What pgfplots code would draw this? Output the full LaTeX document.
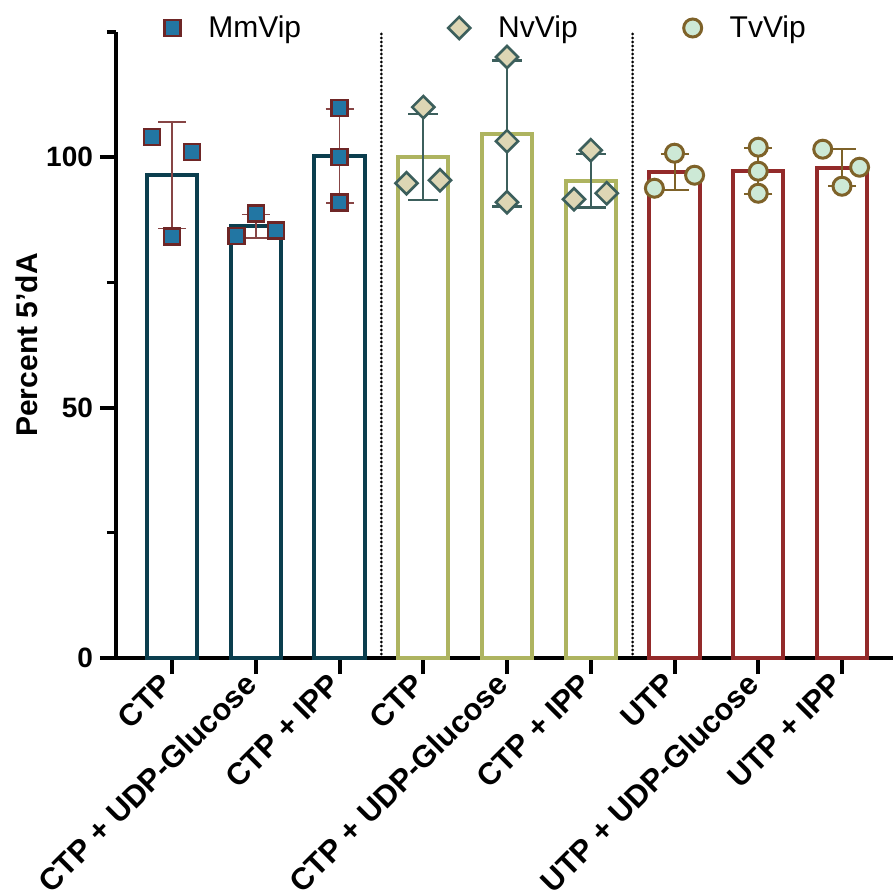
\documentclass[border=0pt]{standalone}
\usepackage{pgfplots}
\usepackage{pgfplotstable}
\pgfplotsset{compat=1.18}
\usepackage{fontspec}
\setmainfont{Liberation Sans}

% bar outlines, marker fills/edges, error-bar colours per enzyme
\definecolor{barMm}{HTML}{0B3E4E}
\definecolor{fillMm}{HTML}{2276A3}
\definecolor{edgeMm}{HTML}{6E2626}
\definecolor{errMm}{HTML}{874545}
\definecolor{barNv}{HTML}{AEB460}
\definecolor{fillNv}{HTML}{DDD6B4}
\definecolor{edgeNv}{HTML}{3C5F5C}
\definecolor{barTv}{HTML}{932A2A}
\definecolor{fillTv}{HTML}{CDE9D6}
\definecolor{edgeTv}{HTML}{7E6229}

% means and standard deviations (x = category position)
\pgfplotstableread{
x m s
0 96.40 10.67
1 86.17 2.35
2 100.27 9.40
}\mmbar
\pgfplotstableread{
x m s
3 100.07 8.61
4 104.73 14.56
5 95.27 5.35
}\nvbar
\pgfplotstableread{
x m s
6 97.00 3.54
7 97.33 4.60
8 97.93 3.70
}\tvbar

% individual replicates (small horizontal offsets within each category)
\pgfplotstableread{
x y
-0.24 104.0
0.24 101.0
0 84.2
0.77 84.3
1 88.8
1.24 85.4
2 109.8
2 100.0
2 91.0
}\mmpts
\pgfplotstableread{
x y
2.8 94.8
3.2 95.4
3 110.0
4 120.0
4 103.2
4 91.0
4.8 91.6
5.19 92.8
5 101.4
}\nvpts
\pgfplotstableread{
x y
5.76 93.8
6.24 96.4
6 100.8
7 102.0
7 97.2
7 92.8
7.77 101.6
8.21 98.0
8 94.2
}\tvpts

\begin{document}
\begin{tikzpicture}
\begin{axis}[
  name=ax,
  scale only axis,
  width=388.5pt, height=313pt,
  xmin=-0.669, xmax=8.609,
  ymin=0, ymax=125,
  clip=false,
  axis x line*=bottom, axis y line*=left,
  axis line style={line width=2pt, black},
  tick align=outside,
  major tick length=8pt,
  minor tick length=4.5pt,
  major tick style={line width=2pt, black},
  minor tick style={line width=1.6pt, black},
  xtick={0,1,2,3,4,5,6,7,8},
  xticklabels={CTP, CTP + UDP-Glucose, CTP + IPP, CTP, CTP + UDP-Glucose, CTP + IPP, UTP, UTP + UDP-Glucose, UTP + IPP},
  ytick={0,50,100},
  minor ytick={25,75,125},
  /pgf/number format/assume math mode=true,
  yticklabel style={font=\bfseries\fontsize{14}{16}\selectfont},
  xticklabel style={rotate=45, anchor=east, font=\bfseries\fontsize{15.4}{17}\selectfont},
  ylabel={Percent 5’dA},
  every axis y label/.style={at={(rel axis cs:-0.1145,0.5)}, rotate=90, anchor=center,
    font=\bfseries\fontsize{15}{17}\selectfont},
  legend columns=3,
  legend image code/.code={\draw[#1] plot coordinates {(0pt,0pt)};},
  legend style={
    draw=none, fill=none,
    at={(rel axis cs:0.054,1.0064)}, anchor=west,
    font=\fontsize{15}{17}\selectfont,
    /tikz/every odd column/.style={column sep=12pt},
    /tikz/column 2/.style={column sep=71.5pt},
    /tikz/column 4/.style={column sep=51pt},
  },
]

% dotted separators between enzyme groups
\addplot[forget plot, black, line width=1.5pt, line cap=round, dash pattern=on 0pt off 2pt] coordinates {(2.5,0) (2.5,125)};
\addplot[forget plot, black, line width=1.5pt, line cap=round, dash pattern=on 0pt off 2pt] coordinates {(5.5,0) (5.5,125)};

% open bars at the mean
\addplot[forget plot, ybar, bar width=0.6, bar shift=0pt, draw=barMm, fill=white, line width=2pt] table[x=x, y=m] {\mmbar};
\addplot[forget plot, ybar, bar width=0.6, bar shift=0pt, draw=barNv, fill=white, line width=2pt] table[x=x, y=m] {\nvbar};
\addplot[forget plot, ybar, bar width=0.6, bar shift=0pt, draw=barTv, fill=white, line width=2pt] table[x=x, y=m] {\tvbar};

% mean +/- SD with horizontal caps
\addplot[forget plot, draw=none, mark=none,
  error bars/.cd, y dir=both, y explicit,
  error bar style={line width=0.75pt, draw=errMm},
  error mark=|, error mark options={draw=errMm, mark size=7pt, line width=0.75pt}]
  table[x=x, y=m, y error=s] {\mmbar};
\addplot[forget plot, draw=none, mark=none,
  error bars/.cd, y dir=both, y explicit,
  error bar style={line width=1.2pt, draw=edgeNv},
  error mark=|, error mark options={draw=edgeNv, mark size=7.5pt, line width=1.2pt}]
  table[x=x, y=m, y error=s] {\nvbar};
\addplot[forget plot, draw=none, mark=none,
  error bars/.cd, y dir=both, y explicit,
  error bar style={line width=1pt, draw=edgeTv},
  error mark=|, error mark options={draw=edgeTv, mark size=7pt, line width=1pt}]
  table[x=x, y=m, y error=s] {\tvbar};

% replicates
\addplot[only marks, mark=square*, mark size=4pt, mark options={fill=fillMm, draw=edgeMm, line width=1.25pt}] table[x=x, y=y] {\mmpts};
\addlegendentry{MmVip}
\addplot[only marks, mark=square*, mark size=3.9pt, mark options={rotate=45, fill=fillNv, draw=edgeNv, line width=1.3pt}] table[x=x, y=y] {\nvpts};
\addlegendentry{NvVip}
\addplot[only marks, mark=*, mark size=4.5pt, mark options={fill=fillTv, draw=edgeTv, line width=1.5pt}] table[x=x, y=y] {\tvpts};
\addlegendentry{TvVip}

\end{axis}
\pgfresetboundingbox
\path ([xshift=-58pt,yshift=-118pt]ax.south west) rectangle ([yshift=16pt]ax.north east);
\end{tikzpicture}
\end{document}
